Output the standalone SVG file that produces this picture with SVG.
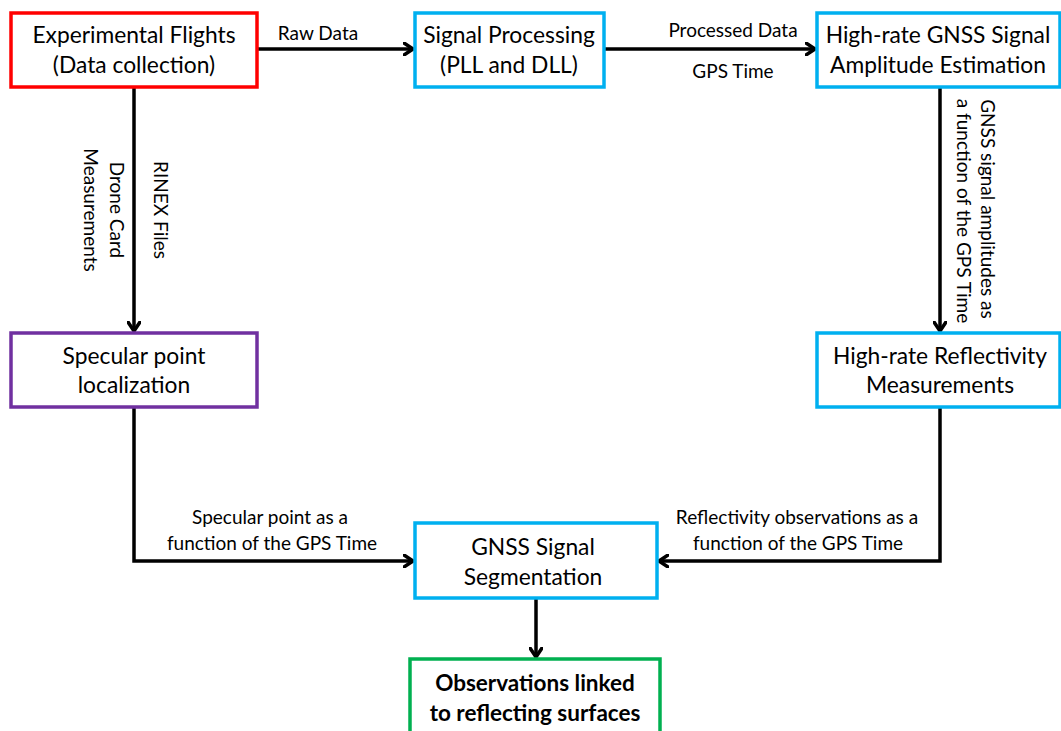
<svg xmlns="http://www.w3.org/2000/svg" width="1061" height="731" viewBox="0 0 1061 731">
<defs>
<marker id="arr" markerWidth="12" markerHeight="14" refX="10" refY="7" orient="auto" markerUnits="userSpaceOnUse">
<path d="M1,1 L10,7 L1,13" fill="none" stroke="#000" stroke-width="3.5" stroke-linecap="round" stroke-linejoin="round"/>
</marker>
<style>
.box{fill:#fff;stroke-width:3.5}
.red{stroke:#FF0000}
.blue{stroke:#00B0F0}
.purple{stroke:#7030A0}
.green{stroke:#00B050}
.t{font-family:Lato,"Open Sans","Liberation Sans",sans-serif;font-size:22.8px;fill:#000;text-anchor:middle}
.b{font-weight:bold;font-size:22.5px}
.l{font-family:Lato,"Open Sans","Liberation Sans",sans-serif;font-size:19px;fill:#000;text-anchor:middle}
.c{fill:none;stroke:#000;stroke-width:3.5;marker-end:url(#arr)}
</style>
</defs>
<rect width="1061" height="731" fill="#fff"/>
<g id="connectors">
<path class="c" d="M258,49 H413"/>
<path class="c" d="M604,49 H815"/>
<path class="c" d="M134,87 V331"/>
<path class="c" d="M940,87 V331"/>
<path class="c" d="M134,407 V561 H413"/>
<path class="c" d="M940,407 V561 H659"/>
<path class="c" d="M536,598 V657"/>
<text class="l" x="318" y="40">Raw Data</text>
<text class="l" x="733" y="37">Processed Data</text>
<text class="l" x="733" y="78">GPS Time</text>
<text class="l" transform="translate(154,210) rotate(90)">RINEX Files</text>
<text class="l" transform="translate(110,210) rotate(90)">Drone Card</text>
<text class="l" transform="translate(84,210) rotate(90)">Measurements</text>
<text class="l" transform="translate(981,209) rotate(90)">GNSS signal amplitudes as</text>
<text class="l" transform="translate(957,211) rotate(90)">a function of the GPS Time</text>
<text class="l" x="270" y="524">Specular point as a</text>
<text class="l" x="272" y="550">function of the GPS Time</text>
<text class="l" x="797" y="524">Reflectivity observations as a</text>
<text class="l" x="798" y="550">function of the GPS Time</text>
</g>
<g id="n1">
<rect class="box red" x="11" y="13" width="246" height="74"/>
<text class="t" x="134" y="43">Experimental Flights</text>
<text class="t" x="134" y="73">(Data collection)</text>
</g>
<g id="n2">
<rect class="box blue" x="415" y="13" width="189" height="74"/>
<text class="t" x="509" y="43">Signal Processing</text>
<text class="t" x="509" y="73">(PLL and DLL)</text>
</g>
<g id="n3">
<rect class="box blue" x="817" y="13" width="243" height="74"/>
<text class="t" x="938" y="43">High-rate GNSS Signal</text>
<text class="t" x="938" y="73">Amplitude Estimation</text>
</g>
<g id="n4">
<rect class="box purple" x="11" y="333" width="246" height="74"/>
<text class="t" x="134" y="364">Specular point</text>
<text class="t" x="134" y="393">localization</text>
</g>
<g id="n5">
<rect class="box blue" x="817" y="333" width="243" height="74"/>
<text class="t" x="940" y="364">High-rate Reflectivity</text>
<text class="t" x="940" y="393">Measurements</text>
</g>
<g id="n6">
<rect class="box blue" x="415" y="523" width="242" height="75"/>
<text class="t" x="533" y="555">GNSS Signal</text>
<text class="t" x="533" y="585">Segmentation</text>
</g>
<g id="n7">
<rect class="box green" x="410" y="659" width="250" height="80"/>
<text class="t b" x="535" y="691">Observations linked</text>
<text class="t b" x="535" y="721">to reflecting surfaces</text>
</g>
</svg>
